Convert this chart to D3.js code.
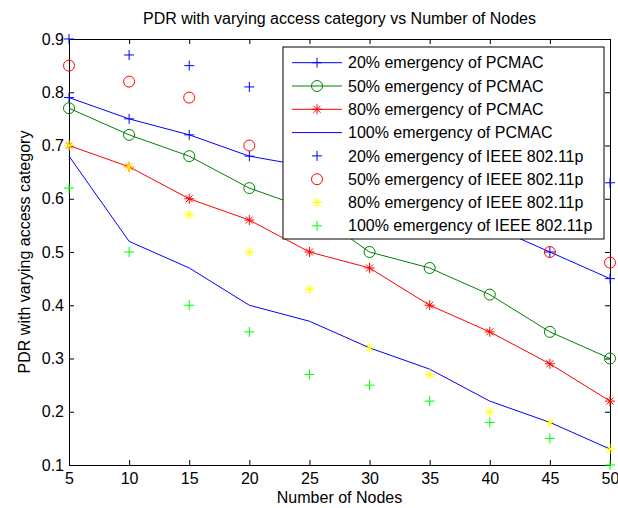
<!DOCTYPE html>
<html><head><meta charset="utf-8">
<script src="https://cdn.jsdelivr.net/npm/d3@7"></script>
<style>
html,body{margin:0;padding:0;background:#fff;}
svg{display:block;}
text{font-family:"Liberation Sans",Arial,sans-serif;fill:#000;}
</style></head>
<body>
<svg id="chart" width="618" height="508"></svg>
<script>
const nodes = [5,10,15,20,25,30,35,40,45,50];
const pcmac20  = [0.79,0.75,0.72,0.68,0.66,0.62,0.59,0.55,0.50,0.45];
const pcmac50  = [0.77,0.72,0.68,0.62,0.58,0.50,0.47,0.42,0.35,0.30];
const pcmac80  = [0.70,0.66,0.60,0.56,0.50,0.47,0.40,0.35,0.29,0.22];
const pcmac100 = [0.68,0.52,0.47,0.40,0.37,0.32,0.28,0.22,0.18,0.13];
const ieee20  = [0.90,0.87,0.85,0.81,0.77,0.74,0.70,0.67,0.65,0.63];
const ieee50  = [0.85,0.82,0.79,0.70,0.66,0.62,0.58,0.54,0.50,0.48];
const ieee80  = [0.70,0.66,0.57,0.50,0.43,0.32,0.27,0.20,0.18,0.13];
const ieee100 = [0.62,0.50,0.40,0.35,0.27,0.25,0.22,0.18,0.15,0.10];
const xTicks = [5,10,15,20,25,30,35,40,45,50];
const yTicks = [0.1,0.2,0.3,0.4,0.5,0.6,0.7,0.8,0.9];
const seriesNames = ["20% emergency of PCMAC","50% emergency of PCMAC","80% emergency of PCMAC","100% emergency of PCMAC",
  "20% emergency of IEEE 802.11p","50% emergency of IEEE 802.11p","80% emergency of IEEE 802.11p","100% emergency of IEEE 802.11p"];
const titleText = "PDR with varying access category vs Number of Nodes";
const xLabel = "Number of Nodes";
const yLabel = "PDR with varying access category";

const series = [
  {name:seriesNames[0], values:pcmac20,  color:"#0000ff", line:true,  marker:"plus"},
  {name:seriesNames[1], values:pcmac50,  color:"#008000", line:true,  marker:"circle"},
  {name:seriesNames[2], values:pcmac80,  color:"#ff0000", line:true,  marker:"star"},
  {name:seriesNames[3], values:pcmac100, color:"#0000ff", line:true,  marker:null},
  {name:seriesNames[4], values:ieee20,  color:"#0000ff", line:false, marker:"plus"},
  {name:seriesNames[5], values:ieee50,  color:"#ff0000", line:false, marker:"circle"},
  {name:seriesNames[6], values:ieee80,  color:"#ffff00", line:false, marker:"star"},
  {name:seriesNames[7], values:ieee100, color:"#00ff00", line:false, marker:"plus"}
];

const L=69, R=610, T=39, B=465;
const svg = d3.select("#chart");
const x = d3.scaleLinear().domain([5,50]).range([L,R]);
const y = d3.scaleLinear().domain([0.1,0.9]).range([B,T]);

function drawMarker(g, type, color){
  if(type==="plus"){
    g.append("path").attr("d","M-5,0H5M0,-5V5").attr("stroke",color).attr("stroke-width",1).attr("fill","none");
  } else if(type==="circle"){
    g.append("circle").attr("r",5.5).attr("stroke",color).attr("stroke-width",1).attr("fill","none");
  } else if(type==="star"){
    g.append("path").attr("d","M-5,0H5M0,-5V5M-3.5,-3.5L3.5,3.5M-3.5,3.5L3.5,-3.5").attr("stroke",color).attr("stroke-width",1).attr("fill","none");
  }
}

// axes (box with inward ticks)
const tl = 5;
const axB = svg.append("g").attr("transform",`translate(0,${B})`).call(d3.axisBottom(x).tickValues(xTicks).tickSizeInner(-tl).tickSizeOuter(0).tickPadding(8).tickFormat(d3.format("d")));
const axT = svg.append("g").attr("transform",`translate(0,${T})`).call(d3.axisTop(x).tickValues(xTicks).tickSizeInner(-tl).tickSizeOuter(0).tickFormat(""));
const axL = svg.append("g").attr("transform",`translate(${L},0)`).call(d3.axisLeft(y).tickValues(yTicks).tickSizeInner(-tl).tickSizeOuter(0).tickPadding(5).tickFormat(d3.format(".1f")));
const axR = svg.append("g").attr("transform",`translate(${R},0)`).call(d3.axisRight(y).tickValues(yTicks).tickSizeInner(-tl).tickSizeOuter(0).tickFormat(""));
[axB,axT,axL,axR].forEach(a=>{
  a.select(".domain").attr("stroke","#000").attr("stroke-width",1);
  a.selectAll(".tick line").attr("stroke","#000");
  a.selectAll("text").attr("font-family","Liberation Sans, Arial, sans-serif").attr("font-size",16).attr("fill","#000");
});

// data
const lineGen = d3.line().x((d,i)=>x(nodes[i])).y(d=>y(d));
series.forEach(s=>{
  if(s.line){
    svg.append("path").datum(s.values).attr("d",lineGen).attr("fill","none").attr("stroke",s.color).attr("stroke-width",1);
  }
  if(s.marker){
    s.values.forEach((v,i)=>{
      const g = svg.append("g").attr("transform",`translate(${x(nodes[i])},${y(v)})`);
      drawMarker(g,s.marker,s.color);
    });
  }
});

// legend
const lgX=283, lgY=47, lgW=321, lgH=192, rowH=23.3, row0=62.7;
const lg = svg.append("g");
lg.append("rect").attr("x",lgX).attr("y",lgY).attr("width",lgW).attr("height",lgH).attr("fill","#fff").attr("stroke","#000").attr("stroke-width",1);
series.forEach((s,i)=>{
  const cy = row0 + i*rowH;
  if(s.line){
    lg.append("line").attr("x1",292).attr("x2",342).attr("y1",cy).attr("y2",cy).attr("stroke",s.color).attr("stroke-width",1);
  }
  if(s.marker){
    const g = lg.append("g").attr("transform",`translate(317,${cy})`);
    drawMarker(g,s.marker,s.color);
  }
  lg.append("text").attr("x",348).attr("y",cy).attr("dy","0.35em").attr("font-size",16).text(s.name);
});

// titles
svg.append("text").attr("x",(L+R)/2).attr("y",24).attr("text-anchor","middle").attr("font-size",16).text(titleText);
svg.append("text").attr("x",(L+R)/2).attr("y",503).attr("text-anchor","middle").attr("font-size",16).text(xLabel);
svg.append("text").attr("transform",`translate(30,${(T+B)/2}) rotate(-90)`).attr("text-anchor","middle").attr("font-size",16).text(yLabel);
</script>
</body></html>
